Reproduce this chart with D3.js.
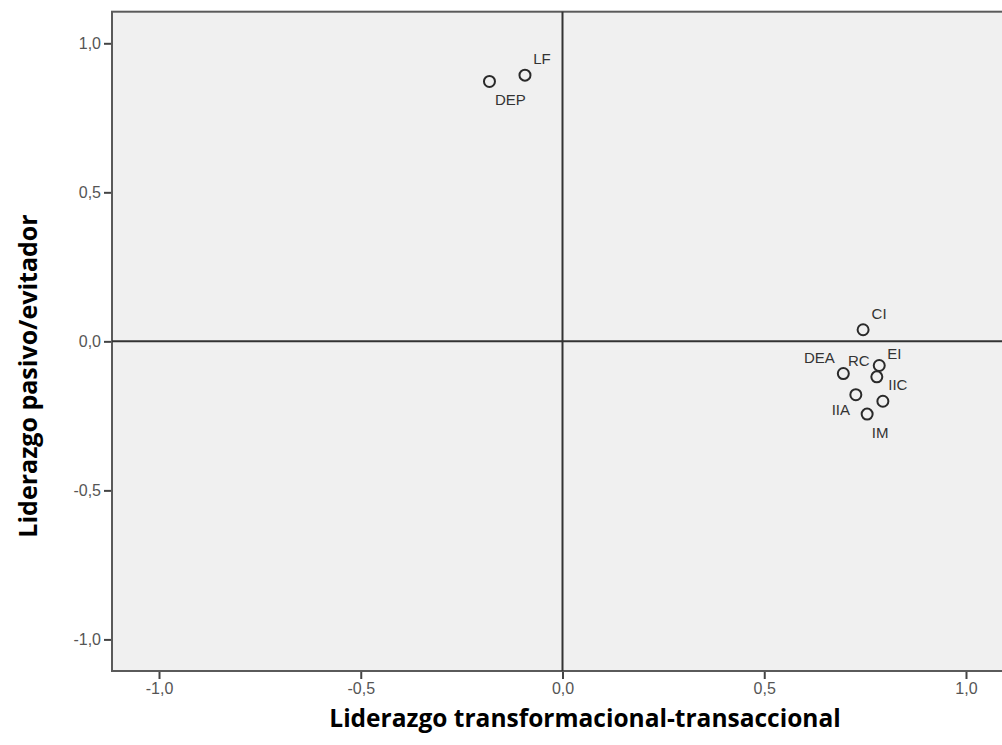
<!DOCTYPE html>
<html>
<head>
<meta charset="utf-8">
<script src="https://cdn.jsdelivr.net/npm/d3@7"></script>
<style>
  body { margin: 0; background: #fff; }
  svg { display: block; }
</style>
</head>
<body>
<div id="chart"></div>
<script>
// point labels and coordinates
var labels = ["DEP", "LF", "CI", "EI", "RC", "DEA", "IIA", "IIC", "IM"];
var xValues = [-0.181, -0.093, 0.745, 0.785, 0.779, 0.696, 0.727, 0.794, 0.755];
var yValues = [0.872, 0.893, 0.039, -0.081, -0.119, -0.108, -0.179, -0.201, -0.244];
var tickValues = [-1.0, -0.5, 0.0, 0.5, 1.0];

// where each label sits relative to its marker (px)
var labelOffsets = {
  DEP: [21, 18], LF: [17, -17], CI: [16, -16], EI: [15, -12], RC: [-18, -16],
  DEA: [-24, -16], IIA: [-15, 15], IIC: [15, -17], IM: [13, 18]
};

var width = 1002, height = 745;
var points = labels.map(function (l, i) { return { label: l, x: xValues[i], y: yValues[i] }; });

var svg = d3.select('#chart').append('svg')
  .attr('width', width)
  .attr('height', height);

// scales (right edge of the frame falls outside the picture)
var x = d3.scaleLinear().domain([-1.1165, 1.1165]).range([112, 1013]);
var y = d3.scaleLinear().domain([-1.106, 1.106]).range([671, 11.7]);

var fmt = function (d) { return d3.format('.1f')(d).replace('.', ',').replace('−', '-'); };

// plot background
svg.append('rect')
  .attr('x', x.range()[0])
  .attr('y', y.range()[1])
  .attr('width', x.range()[1] - x.range()[0])
  .attr('height', y.range()[0] - y.range()[1])
  .attr('fill', '#f0f0f0')
  .attr('stroke', '#5a5a5a')
  .attr('stroke-width', 2);

// reference lines at zero
svg.append('line')
  .attr('x1', x(0)).attr('x2', x(0))
  .attr('y1', y.range()[0]).attr('y2', y.range()[1])
  .attr('stroke', '#333').attr('stroke-width', 2);
svg.append('line')
  .attr('x1', x.range()[0]).attr('x2', x.range()[1])
  .attr('y1', y(0)).attr('y2', y(0))
  .attr('stroke', '#333').attr('stroke-width', 2);

// axes
var xAxis = d3.axisBottom(x).tickValues(tickValues).tickFormat(fmt).tickSize(8).tickSizeOuter(0).tickPadding(4);
var yAxis = d3.axisLeft(y).tickValues(tickValues).tickFormat(fmt).tickSize(8).tickSizeOuter(0).tickPadding(3);

var gx = svg.append('g')
  .attr('transform', 'translate(0,' + y.range()[0] + ')')
  .call(xAxis);
var gy = svg.append('g')
  .attr('transform', 'translate(' + x.range()[0] + ',0)')
  .call(yAxis);

[gx, gy].forEach(function (g) {
  g.select('.domain').remove();
  g.selectAll('.tick line').attr('stroke', '#444').attr('stroke-width', 2);
  g.selectAll('.tick text')
    .attr('fill', '#555')
    .style('font-family', '"Liberation Sans", Arial, sans-serif')
    .style('font-size', '16px');
});
gx.selectAll('.tick line').attr('y1', 1);
gy.selectAll('.tick line').attr('x1', -1);

// markers
svg.append('g')
  .selectAll('circle')
  .data(points)
  .join('circle')
  .attr('cx', function (d) { return x(d.x); })
  .attr('cy', function (d) { return y(d.y); })
  .attr('r', 5.5)
  .attr('fill', 'none')
  .attr('stroke', '#2a2a2a')
  .attr('stroke-width', 2);

// point labels
svg.append('g')
  .selectAll('text')
  .data(points)
  .join('text')
  .attr('x', function (d) { return x(d.x) + labelOffsets[d.label][0]; })
  .attr('y', function (d) { return y(d.y) + labelOffsets[d.label][1]; })
  .attr('text-anchor', 'middle')
  .attr('dominant-baseline', 'central')
  .attr('fill', '#333')
  .style('font-family', '"Liberation Sans", Arial, sans-serif')
  .style('font-size', '15px')
  .text(function (d) { return d.label; });

// axis titles
svg.append('text')
  .attr('x', 585)
  .attr('y', 727)
  .attr('text-anchor', 'middle')
  .style('font-family', '"Open Sans", sans-serif')
  .style('font-weight', 'bold')
  .style('font-size', '24.5px')
  .text('Liderazgo transformacional-transaccional');

svg.append('text')
  .attr('transform', 'translate(27,376) rotate(-90)')
  .attr('text-anchor', 'middle')
  .attr('dominant-baseline', 'central')
  .style('font-family', '"Open Sans", sans-serif')
  .style('font-weight', 'bold')
  .style('font-size', '25px')
  .text('Liderazgo pasivo/evitador');
</script>
</body>
</html>
